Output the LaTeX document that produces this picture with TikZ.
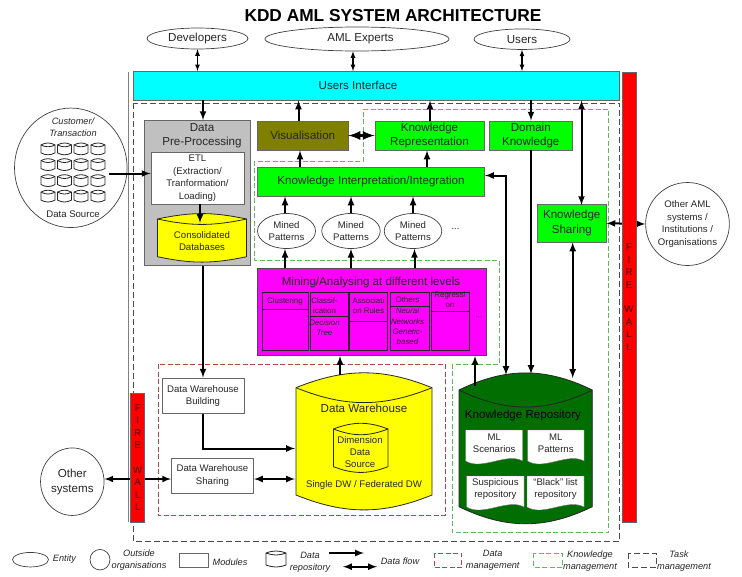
\documentclass[tikz,border=0pt]{standalone}
\usepackage{fontspec}
\setmainfont{Liberation Sans}
\usetikzlibrary{shapes.geometric,fit}
\definecolor{C1}{HTML}{00FFFF}
\definecolor{C2}{HTML}{00FF00}
\definecolor{C3}{HTML}{808000}
\definecolor{C4}{HTML}{FF00FF}
\definecolor{C5}{HTML}{C0C0C0}
\definecolor{C6}{HTML}{FFFF00}
\definecolor{C7}{HTML}{006E00}
\definecolor{C8}{HTML}{B04848}
\definecolor{C9}{HTML}{60B860}
\newcommand{\drum}[7]{
\draw[draw=black!85,line width=0.8pt,fill=#7] (#2,#4) to[bend left=#6] (#3,#4) -- (#3,#5) to[bend left=#6] (#2,#5) -- cycle;
\draw[black!85,line width=0.8pt] (#2,#4) to[bend right=#6] (#3,#4);
\node[fit={(#2,#4)(#3,#5)},inner sep=0pt] (#1) {};
}
\newcommand{\docu}[6]{
\draw[black!55,fill=white] (#2,#3) -- (#2+#4,#3) -- (#2+#4,#3+#5) .. controls (#2+#4-16,#3+#5-9) and (#2+16,#3+#5+10) .. (#2,#3+#5) -- cycle;
\node[t,f10] (#1) at (#2+#4/2,#3+13) {#6};
}
\begin{document}
\begin{tikzpicture}[x=1pt,y=-1pt]
\tikzstyle{f12} = [font=\fontsize{11.6}{14.6}\selectfont]
\tikzstyle{f10} = [font=\fontsize{9.6}{12.4}\selectfont]
\tikzstyle{f9} = [font=\fontsize{7.9}{10.2}\selectfont]
\tikzstyle{i10} = [font=\fontsize{9.2}{12.2}\selectfont\itshape]
\tikzstyle{i9} = [font=\fontsize{7.9}{10.4}\selectfont\itshape]
\tikzstyle{t} = [inner sep=0pt,align=center,text=black!85]
\tikzstyle{b} = [t,draw=black!60,line width=0.9pt]
\tikzstyle{e} = [t,ellipse,draw=black!75,fill=white,line width=0.7pt]
\tikzstyle{w} = [b,fill=red,f10,text=black!75!red,minimum width=14pt]
\tikzstyle{a} = [line width=2pt,>=latex,->]
\tikzstyle{aa} = [line width=2pt,>=latex,<->]
\tikzstyle{sa} = [line width=1.2pt,>=latex,<->]
\tikzstyle{dm} = [C8,line width=1pt,dash pattern=on 5pt off 2.5pt]
\tikzstyle{km} = [C9,line width=1pt,dash pattern=on 5pt off 2.5pt]
\tikzstyle{tm} = [black!70,line width=1pt,dash pattern=on 6pt off 3pt]
\useasboundingbox (0,0) rectangle (742,576);
\foreach \n/\x in {vp/203,vv/298.5,vk/300,vr/430,vs/427,vd/531,vu/581.5,va/353,vq/572.7,vo/200,vm/340,vn/475,
  m1/285,m2/351,m3/414.5}
  \coordinate (\n) at (\x,0);
\node[font=\fontsize{17.3}{19}\selectfont\bfseries,inner sep=0pt] (title) at (393,16) {KDD AML SYSTEM ARCHITECTURE};
\draw[black!50,line width=1.2pt] (128.7,72) -- (128.7,522);
\draw[tm] (133.5,103) rectangle (619.5,541.5);
\draw[km] (363,109) -- (608.7,109) -- (608.7,532.7) -- (452.3,532.7) -- (452.3,364.3) -- (499.3,364.3)
  -- (499.3,260) -- (254.3,260) -- (254.3,161.3) -- (363,161.3) -- cycle;
\draw[dm] (158,364) rectangle (445,515.7);
\node[e,f12] (dev) at (197.5,38.5) [minimum width=101pt,minimum height=21pt] {Developers};
\node[e,f12] (aml) at (357,39) [minimum width=184pt,minimum height=24pt] {\hspace{7pt}AML Experts};
\node[e,f12] (users) at (522,39.2) [minimum width=96pt,minimum height=20.5pt] {Users};
\node[b,f12,fill=C1] (ui) at (376.5,85.75) [minimum width=486pt,minimum height=28.5pt] {Users Interface\hspace{37pt}};
\node[e,i10] (src) at (70.8,167.8) [minimum width=112.5pt,minimum height=119.5pt] {};
\node[t,i10] (cust) at (73,127) {Customer/\\Transaction};
\node[t,f10] (dsrc) at (73,214) {Data Source};
\foreach \cx in {48,64.5,81,98}
  \foreach \cy in {149.3,165,181,196.5}
    \drum{c\cx-\cy}{\cx-7}{\cx+7}{\cy-4.4}{\cy+3.6}{28}{white}
\node[b,fill=C5] (dp) at (197.5,193) [minimum width=106pt,minimum height=145pt] {};
\node[t,f12] (dptext) at (202,135.7) {Data\\Pre-Processing};
\node[b,f10,fill=white] (etl) at (197.5,178.25) [minimum width=93pt,minimum height=51.5pt] {ETL\\(Extraction/\\Tranformation/\\Loading)};
\drum{cdb}{157.5}{246.5}{219}{256.7}{12}{C6}
\node[t,f10] (cdbtext) at (202,241) {Consolidated\\Databases};
\node[b,f12,fill=C3] (vis) at (302.75,135.5) [minimum width=90.5pt,minimum height=29pt] {Visualisation};
\node[b,f12,fill=C2] (kr) at (429.5,135.5) [minimum width=109pt,minimum height=29pt] {Knowledge\\Representation};
\node[b,f12,fill=C2] (dk) at (530.75,135.5) [minimum width=82.5pt,minimum height=29pt] {Domain\\Knowledge};
\node[b,f12,fill=C2] (ki) at (371,181.5) [minimum width=227pt,minimum height=29pt] {Knowledge Interpretation/Integration};
\node[b,f12,fill=C2] (ks) at (571.75,223.25) [minimum width=68.5pt,minimum height=37.5pt] {Knowledge\\Sharing};
\node[e,f10] (mp1) at (286.5,231) [minimum width=58pt,minimum height=35pt] {Mined\\Patterns};
\node[e,f10] (mp2) at (351,231) [minimum width=58.5pt,minimum height=35pt] {Mined\\Patterns};
\node[e,f10] (mp3) at (413,231) [minimum width=57.5pt,minimum height=35pt] {Mined\\Patterns};
\node[t,f10] (mpdots) at (455.5,229) {...};
\node[b,fill=C4,draw=black!70] (mine) at (371.75,312) [minimum width=228.5pt,minimum height=87pt] {};
\node[t,f12] (minetext) at (371,282) {Mining/Analysing at different levels};
\foreach \xa/\xb/\yd in {262.3/308.3/309,310.5/348/316.3,349.7/387.5/321,390.5/429.2/306.3,431.5/469.5/311}
  \draw[black!85,line width=0.8pt] (\xa,292.5) rectangle (\xb,350) (\xa,\yd) -- (\xb,\yd);
\node[t,f9] (clust) at (285,301) {Clustering};
\node[t,f9] (classif) at (324.5,306) {Classif-\\ication};
\node[t,i9] (dtree) at (324.5,327.5) {Decision\\Tree};
\node[t,f9] (assoc) at (368.5,306) {Associati\\on Rules};
\node[t,f9] (others) at (407.5,300) {Others};
\node[t,i9] (neural) at (407.5,326.5) {Neural\\Networks\\Genetic-\\based};
\node[t,f9] (regr) at (450,300) {Regressi\\on};
\node[t,f9] (celldots) at (479,317) {...};
\node[b,f10,fill=white] (dwb) at (203,395.75) [minimum width=82pt,minimum height=35.5pt] {Data Warehouse\\Building};
\node[b,f10,fill=white] (dws) at (212.5,475.5) [minimum width=82pt,minimum height=35pt] {Data Warehouse\\Sharing};
\node[e,f12] (other) at (72.3,481.7) [minimum width=63.5pt,minimum height=67.5pt] {Other\\systems};
\node[e,f10] (oaml) at (687.5,224) [minimum width=78pt,minimum height=83pt] {Other AML\\systems /\\Institutions /\\Organisations};
\drum{dw}{296}{432}{387.7}{495}{22}{C6}
\node[t,f12] (dwtext) at (364,408) {Data Warehouse};
\drum{dim}{333.5}{388}{429}{466.7}{21}{C6}
\node[t,f10] (dimtext) at (360,452) {Dimension\\Data\\Source};
\node[t,f10] (dwfoot) at (364,485) {Single DW / Federated DW};
\drum{repo}{459}{592.3}{390}{506.7}{26}{C7}
\node[t,f12,text=black] (repotext) at (523,415.5) {Knowledge Repository};
\docu{d1}{465.7}{430}{57}{31}{ML\\Scenarios}
\docu{d2}{527.5}{430}{56.5}{31}{ML\\Patterns}
\docu{d3}{466.7}{476}{57.3}{31}{Suspicious\\repository}
\docu{d4}{527}{476}{57}{31}{``Black'' list\\repository}
\coordinate (cdbin) at (200,223);
\coordinate (dwin) at (295,448.5);
\coordinate (dwsh) at (295,479);
\coordinate (dwtop) at (340,375);
\coordinate (repok) at (506,375);
\coordinate (repod) at (531,374);
\coordinate (repos) at (572.7,378);
\coordinate (repom) at (475,386);
\coordinate (srcin) at (109,173.5);
\draw[sa] (dev.south) -- (ui.north -| dev);
\draw[sa] (aml.south -| va) -- (ui.north -| va);
\draw[sa] (users.south) -- (ui.north -| users);
\draw[a] (ui.south -| vp) -- (dp.north -| vp);
\draw[a] (vis.north -| vv) -- (ui.south -| vv);
\draw[a] (kr.north -| vr) -- (ui.south -| vr);
\draw[a] (ui.south -| vd) -- (dk.north -| vd);
\draw[aa] (ui.south -| vu) -- ([yshift=-1pt]ks.north -| vu);
\draw[a] (srcin) -- (srcin -| etl.west);
\draw[a] (etl.south -| vo) -- (cdbin);
\draw[a] (dp.south -| vp) -- (dwb.north -| vp);
\draw[a] (ki.north -| vk) -- (vis.south -| vk);
\draw[a] (ki.north -| vs) -- (kr.south -| vs);
\draw[line width=3pt,>=latex,<->] (vis.east) -- (kr.west);
\draw[a] (mp1.north -| m1) -- (ki.south -| m1);
\draw[a] (mp2.north -| m2) -- (ki.south -| m2);
\draw[a] (mp3.north) -- (ki.south -| mp3);
\draw[a] (mine.north -| m1) -- (mp1.south -| m1);
\draw[a] (mine.north -| m2) -- (mp2.south -| m2);
\draw[a] (mine.north -| m3) -- (mp3.south -| m3);
\draw[aa] ([yshift=6pt]ki.east) -| (repok);
\draw[a] (dk.south -| vd) -- (repod);
\draw[aa] (ks.south -| vq) -- (repos);
\draw[aa] (ks.east) -- (oaml.west);
\draw[a] (dwb.south) |- (dwin);
\draw[aa] (dws.east |- dwsh) -- (dwsh);
\draw[aa] (other.east |- dwsh) -- (dws.west |- dwsh);
\draw[a] (dwtop) -- (mine.south -| dwtop);
\draw[a] (repom) -- (mine.south -| repom);
\node[w,minimum height=449.5pt] (fwr) at (629,297.25) {F\\I\\R\\E\\[12.4pt]W\\A\\L\\L};
\node[w,minimum height=129pt] (fwl) at (137.75,457.5) {F\\I\\R\\E\\[12.4pt]W\\A\\L\\L};
% legend
\node[e,minimum width=36pt,minimum height=14.5pt] (lent) at (30.5,559.7) {};
\node[t,i10] (lenttext) at (64.5,559.5) {Entity};
\node[e,minimum width=20pt,minimum height=20.5pt] (lout) at (100,559.7) {};
\node[t,i10] (louttext) at (139,560) {Outside\\organisations};
\node[b,minimum width=29pt,minimum height=14pt] (lmod) at (193.5,560) {};
\node[t,i10] (lmodtext) at (230,562.5) {Modules};
\drum{lcyl}{266}{286}{553}{565}{20}{white}
\node[t,i10] (lcyltext) at (310,562) {Data\\repository};
\coordinate (lf1) at (329,553);
\coordinate (lf2) at (364,553);
\coordinate (lf3) at (343,566.7);
\coordinate (lf4) at (377,566.7);
\draw[a] (lf1) -- (lf2);
\draw[aa] (lf3) -- (lf4);
\node[t,i10] (lflow) at (400,561.7) {Data flow};
\draw[dm] (434,553) rectangle (461.5,567.5);
\node[t,i10] (ldm) at (492.7,560) {Data\\management};
\draw[km] (533.5,553) rectangle (562,567);
\node[t,i10] (lkm) at (590,561.5) {Knowledge\\management};
\draw[tm] (628,553) rectangle (656,567);
\node[t,i10] (ltm) at (684,561.5) {\hspace{-10pt}Task\\management};
\end{tikzpicture}
\end{document}
